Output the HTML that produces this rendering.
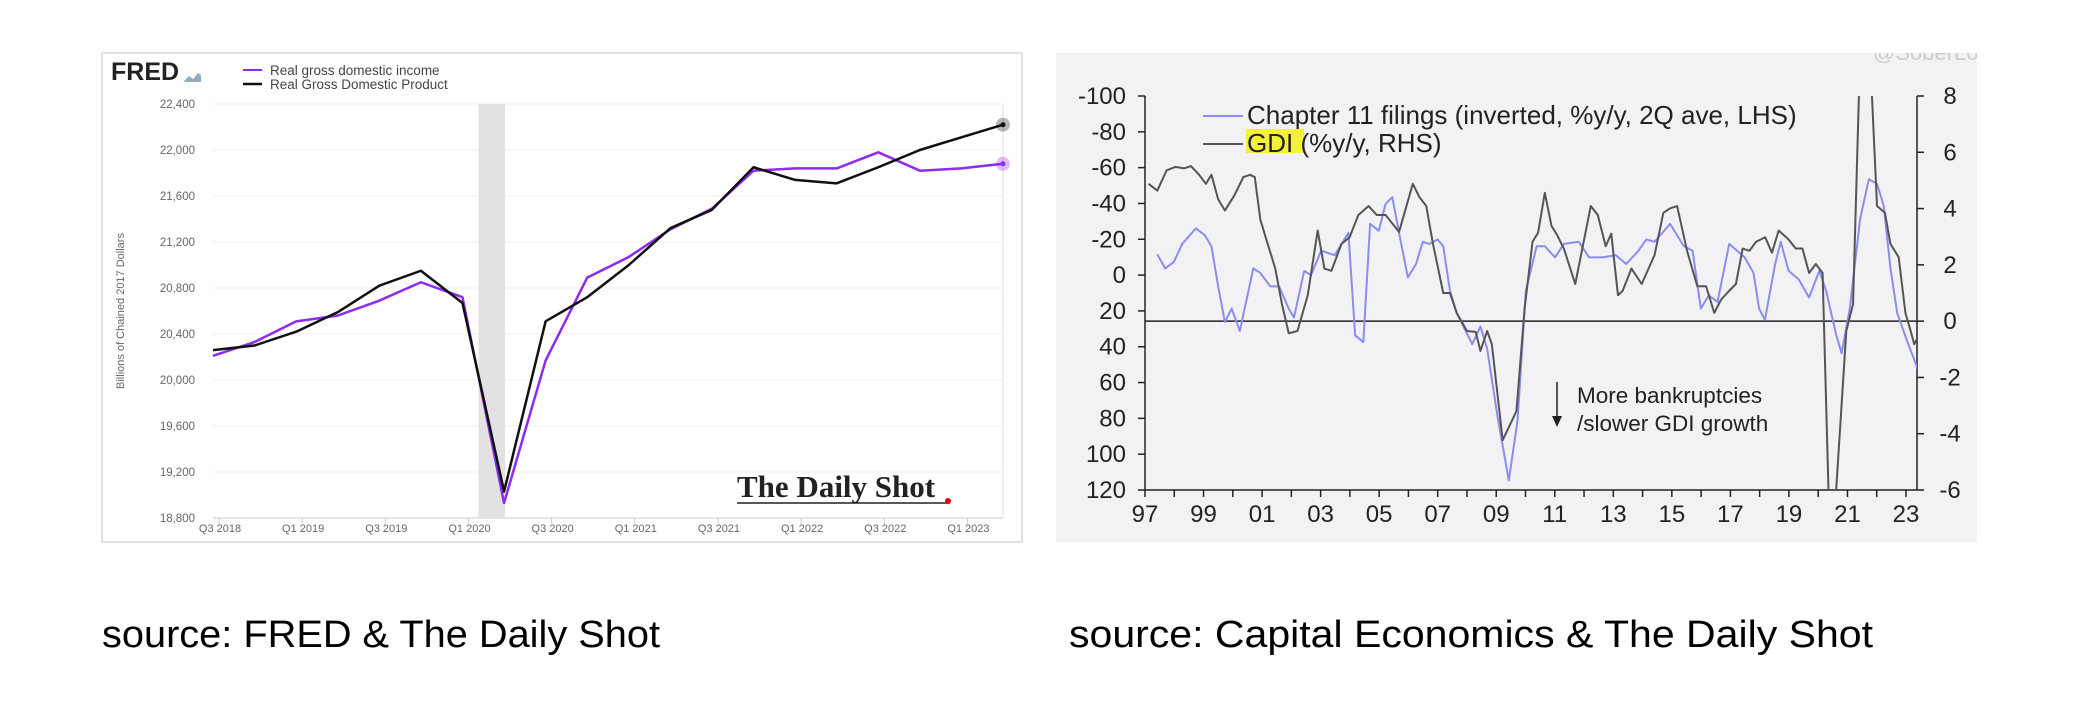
<!DOCTYPE html>
<html><head><meta charset="utf-8"><style>
html,body{margin:0;padding:0;background:#fff;}
svg{display:block;}
</style></head><body>
<svg id="root" width="2083" height="701" viewBox="0 0 2083 701" xmlns="http://www.w3.org/2000/svg">
<defs>
<clipPath id="rclip"><rect x="1145" y="96" width="772" height="394"/></clipPath>
<clipPath id="boxclip"><rect x="1056" y="53" width="921" height="489"/></clipPath>
</defs>
<!-- LEFT CHART -->
<g>
<rect x="102" y="53" width="920" height="489" fill="#fff" stroke="#d8d8d8" stroke-width="1.5"/>
<text x="111" y="80" font-family="Liberation Sans, sans-serif" font-weight="bold" font-size="25" fill="#222">FRED</text>
<path d="M184 81 l5-5 4 3 5-6 3 2 v7 h-17z" fill="#9ab"/>
<line x1="243" y1="70" x2="262" y2="70" stroke="#8b2cf0" stroke-width="2"/>
<text x="270" y="75" font-family="Liberation Sans, sans-serif" font-size="13.5" fill="#444">Real gross domestic income</text>
<line x1="243" y1="84" x2="262" y2="84" stroke="#111" stroke-width="2.5"/>
<text x="270" y="89" font-family="Liberation Sans, sans-serif" font-size="13.5" fill="#444">Real Gross Domestic Product</text>
<text transform="translate(124,311) rotate(-90)" text-anchor="middle" font-family="Liberation Sans, sans-serif" font-size="11" fill="#666">Billions of Chained 2017 Dollars</text>
<g id="lgrid"></g>
<rect id="recession" fill="#e2e2e2"/>
<g id="lseries"></g>
<text x="737" y="497" font-family="Liberation Serif, serif" font-weight="bold" font-size="31" fill="#222">The Daily Shot</text>
<line x1="737" y1="503" x2="950" y2="503" stroke="#222" stroke-width="1.5"/>
<circle cx="948" cy="501" r="3" fill="#e00"/>
</g>
<!-- RIGHT CHART -->
<g>
<rect x="1056" y="53" width="921" height="489" fill="#f2f2f4"/>
<text x="1873" y="60" clip-path="url(#boxclip)" font-family="Liberation Sans, sans-serif" font-size="22" fill="#ccc">@SoberLook</text>
<g id="raxes"></g>
<g clip-path="url(#rclip)" id="rseries"></g>
<line x1="1203" y1="116" x2="1243" y2="116" stroke="#8c8cee" stroke-width="2"/>
<text x="1247" y="124" font-family="Liberation Sans, sans-serif" font-size="26" fill="#222">Chapter 11 filings (inverted, %y/y, 2Q ave, LHS)</text>
<rect x="1246" y="129" width="58" height="24" fill="#f4f13a"/>
<line x1="1203" y1="144" x2="1243" y2="144" stroke="#555" stroke-width="2"/>
<text x="1247" y="152" font-family="Liberation Sans, sans-serif" font-size="26" fill="#222">GDI (%y/y, RHS)</text>
<line x1="1557" y1="382" x2="1557" y2="418" stroke="#222" stroke-width="1.5"/>
<path d="M1552 416 l5 11 5-11z" fill="#222"/>
<text x="1577" y="403" font-family="Liberation Sans, sans-serif" font-size="22.5" fill="#222">More bankruptcies</text>
<text x="1577" y="431" font-family="Liberation Sans, sans-serif" font-size="22.5" fill="#222">/slower GDI growth</text>
</g>
<text x="102" y="647" textLength="558" lengthAdjust="spacingAndGlyphs" font-family="Liberation Sans, sans-serif" font-size="38" fill="#000">source: FRED &amp; The Daily Shot</text>
<text x="1069" y="647" textLength="804" lengthAdjust="spacingAndGlyphs" font-family="Liberation Sans, sans-serif" font-size="38" fill="#000">source: Capital Economics &amp; The Daily Shot</text>
</svg>
<script>
// ---- Left chart data ----
const quarters = ["Q3 2018","Q4 2018","Q1 2019","Q2 2019","Q3 2019","Q4 2019","Q1 2020","Q2 2020","Q3 2020","Q4 2020","Q1 2021","Q2 2021","Q3 2021","Q4 2021","Q1 2022","Q2 2022","Q3 2022","Q4 2022","Q1 2023","Q2 2023"];
const gdiValues = [20210,20330,20510,20560,20690,20850,20720,18930,20170,20890,21070,21310,21490,21820,21840,21840,21980,21820,21840,21880];
const gdpValues = [20260,20300,20420,20590,20820,20950,20670,19030,20510,20720,21000,21320,21480,21850,21740,21710,21850,22000,22110,22220];
const leftYTicks = [18800,19200,19600,20000,20400,20800,21200,21600,22000,22400];
const leftXLabels = ["Q3 2018","Q1 2019","Q3 2019","Q1 2020","Q3 2020","Q1 2021","Q3 2021","Q1 2022","Q3 2022","Q1 2023"];
const recessionStart = "Q1 2020", recessionEnd = "Q2 2020";
// ---- Right chart data ----
const chYears = [1997.42,1997.69,1997.99,1998.27,1998.74,1999.04,1999.27,1999.5,1999.73,1999.96,2000.24,2000.7,2000.94,2001.28,2001.58,2001.91,2002.09,2002.44,2002.67,2003.02,2003.48,2003.95,2004.18,2004.46,2004.69,2004.99,2005.22,2005.45,2005.68,2005.98,2006.26,2006.49,2006.72,2007.0,2007.19,2007.42,2007.65,2007.88,2008.18,2008.46,2008.69,2009.04,2009.43,2009.73,2010.01,2010.38,2010.66,2011.01,2011.31,2011.82,2012.17,2012.63,2013.09,2013.44,2013.86,2014.13,2014.41,2014.94,2015.41,2015.71,2015.99,2016.26,2016.56,2016.96,2017.49,2017.79,2017.98,2018.18,2018.53,2018.72,2018.99,2019.34,2019.69,2020.04,2020.27,2020.62,2020.8,2021.08,2021.43,2021.73,2022.01,2022.24,2022.47,2022.7,2023.05,2023.4];
const chValues = [-11.6,-3.7,-7.4,-17.4,-26.1,-22.3,-16.1,6.3,26.2,18.7,31.2,-3.7,-1.2,6.3,6.3,18.7,23.7,-2.4,0.1,-13.6,-11.1,-23.6,33.7,37.4,-28.6,-24.8,-39.8,-43.5,-23.6,1.3,-6.2,-18.6,-17.4,-19.9,-16.1,8.8,21.2,28.7,38.6,28.7,41.1,78.5,114.6,81,8.8,-16.1,-16.1,-9.9,-17.4,-18.6,-9.9,-9.9,-11.1,-6.2,-13.6,-19.9,-18.6,-28.6,-16.1,-13.6,18.7,11.3,15,-17.4,-9.9,-1.2,18.7,25,-6.2,-18.6,-2.4,2.5,12.5,-2.4,8.8,33.7,43.6,18.7,-31.1,-53.5,-51,-38.5,-3.7,21.2,37.4,52.3];
const gdiYears = [1997.12,1997.42,1997.74,1998.04,1998.34,1998.57,1998.85,1999.08,1999.27,1999.5,1999.73,2000.06,2000.36,2000.59,2000.75,2000.94,2001.17,2001.45,2001.68,2001.91,2002.21,2002.56,2002.9,2003.13,2003.37,2003.71,2003.99,2004.29,2004.64,2004.92,2005.22,2005.68,2006.15,2006.38,2006.61,2006.84,2007.19,2007.42,2007.65,2008.0,2008.3,2008.46,2008.69,2008.85,2009.22,2009.69,2009.97,2010.24,2010.43,2010.66,2010.89,2011.08,2011.31,2011.7,2012.23,2012.47,2012.74,2012.93,2013.16,2013.32,2013.62,2013.97,2014.41,2014.71,2014.94,2015.18,2015.52,2015.87,2016.17,2016.45,2016.68,2016.96,2017.19,2017.42,2017.65,2017.88,2018.19,2018.42,2018.65,2018.99,2019.23,2019.46,2019.69,2019.92,2020.15,2020.43,2020.96,2021.19,2021.5,2021.66,2022.01,2022.28,2022.47,2022.75,2022.98,2023.16,2023.28,2023.44];
const gdiGrowth = [4.88,4.64,5.36,5.48,5.43,5.51,5.2,4.88,5.2,4.33,3.93,4.48,5.12,5.2,5.12,3.61,2.82,1.87,0.6,-0.43,-0.35,0.92,3.22,1.87,1.79,2.74,2.98,3.77,4.09,3.77,3.77,3.17,4.88,4.4,4.09,2.74,1,1,0.29,-0.35,-0.38,-1.06,-0.35,-0.82,-4.23,-3.2,0.45,2.82,3.14,4.56,3.38,3.06,2.58,1.32,4.09,3.77,2.66,3.11,0.92,1.08,1.87,1.32,2.35,3.85,4.01,4.09,2.5,1.24,1.24,0.29,0.76,1.08,1.32,2.58,2.5,2.82,2.98,2.43,3.22,2.9,2.58,2.58,1.71,2.03,1.71,-9,-0.35,0.6,12,12,4.09,3.85,2.74,2.27,0.29,-0.35,-0.82,-0.5];
const lhsTicks = [-100,-80,-60,-40,-20,0,20,40,60,80,100,120];
const rhsTicks = [8,6,4,2,0,-2,-4,-6];
const xTickLabels = ["97","99","01","03","05","07","09","11","13","15","17","19","21","23"];

const NS="http://www.w3.org/2000/svg";
function mk(tag, attrs, parent){const e=document.createElementNS(NS,tag);for(const k in attrs)e.setAttribute(k,attrs[k]);parent.appendChild(e);return e;}

// Left axes
const LX0=213, LX1=1003, LY0=518, LY1=104;
const lx = i => LX0 + i*(LX1-LX0)/(quarters.length-1);
const ly = v => LY0 - (v-18800)/(22400-18800)*(LY0-LY1);
const lgrid=document.getElementById('lgrid');
leftYTicks.forEach(t=>{
  const g=mk('line',{x1:LX0,x2:LX1,y1:ly(t),y2:ly(t),stroke:'#ececec','stroke-width':1},lgrid);
  
  
  const tx=mk('text',{x:195,y:ly(t)+4,'text-anchor':'end','font-family':'Liberation Sans, sans-serif','font-size':11.5,fill:'#666'},lgrid);
  tx.textContent=t.toLocaleString('en-US');
  
  
});
mk('line',{x1:LX0,x2:LX1,y1:LY0,y2:LY0,stroke:'#ccc'},lgrid);
mk('line',{x1:LX1,x2:LX1,y1:LY1,y2:LY0,stroke:'#e0e0e0'},lgrid);
leftXLabels.forEach(l=>{
  const i=quarters.indexOf(l);
  const tk=mk('line',{x1:lx(i)+6,x2:lx(i)+6,y1:LY0,y2:LY0+6,stroke:'#ccc'},lgrid);
  
  
  const tx=mk('text',{x:lx(i)+7,y:532,'text-anchor':'middle','font-family':'Liberation Sans, sans-serif','font-size':11,fill:'#666'},lgrid);
  tx.textContent=l;
  
  
});
const rec=document.getElementById('recession');
const r0=lx(quarters.indexOf(recessionStart))+16, r1=lx(quarters.indexOf(recessionEnd))+1;
rec.setAttribute('x',r0);rec.setAttribute('width',r1-r0);rec.setAttribute('y',LY1);rec.setAttribute('height',LY0-LY1);
const ls=document.getElementById('lseries');
function lline(vals,color,w,name){
  const p=mk('polyline',{points:vals.map((v,i)=>lx(i)+','+ly(v)).join(' '),fill:'none',stroke:color,'stroke-width':w,'stroke-linejoin':'round'},ls);
  
  
  const n=vals.length-1;
  const c=mk('circle',{cx:lx(n),cy:ly(vals[n]),r:7,fill:color,'fill-opacity':0.3},ls);
  
  
  mk('circle',{cx:lx(n),cy:ly(vals[n]),r:2.5,fill:color},ls);
}
lline(gdiValues,'#8b2cf0',2.5,'gdi-line');
lline(gdpValues,'#111',2.5,'gdp-line');

// Right axes
const RX0=1145, RX1=1917, RY0=96, RY1=490;
const rx = y => RX0 + (y-1997)*(1906-RX0)/26;
const ryL = v => RY0 + (v+100)/220*(RY1-RY0);
const ryR = v => RY0 + (8-v)/14*(RY1-RY0);
const ra=document.getElementById('raxes');
mk('line',{x1:RX0,x2:RX0,y1:RY0,y2:RY1,stroke:'#222','stroke-width':1.5},ra);
mk('line',{x1:RX1,x2:RX1,y1:RY0,y2:RY1,stroke:'#222','stroke-width':1.5},ra);
mk('line',{x1:RX0,x2:RX1,y1:RY1,y2:RY1,stroke:'#222','stroke-width':1.5},ra);
lhsTicks.forEach(t=>{
  mk('line',{x1:RX0-7,x2:RX0,y1:ryL(t),y2:ryL(t),stroke:'#222','stroke-width':1.5},ra);
  const tx=mk('text',{x:1126,y:ryL(t)+8,'text-anchor':'end','font-family':'Liberation Sans, sans-serif','font-size':24,fill:'#222'},ra);
  tx.textContent=t;
  
  
});
rhsTicks.forEach(t=>{
  mk('line',{x1:RX1,x2:RX1+7,y1:ryR(t),y2:ryR(t),stroke:'#222','stroke-width':1.5},ra);
  const tx=mk('text',{x:1950,y:ryR(t)+8,'text-anchor':'middle','font-family':'Liberation Sans, sans-serif','font-size':24,fill:'#222'},ra);
  tx.textContent=t;
  
  
});
for(let y=1997;y<=2023;y++){
  mk('line',{x1:rx(y),x2:rx(y),y1:RY1,y2:RY1+7,stroke:'#222','stroke-width':1.5},ra);
}
xTickLabels.forEach(l=>{
  const y=(+l>50?1900:2000)+ +l;
  const tx=mk('text',{x:rx(y),y:522,'text-anchor':'middle','font-family':'Liberation Sans, sans-serif','font-size':24,fill:'#222'},ra);
  tx.textContent=l;
  
  
});
const zl=mk('line',{x1:RX0,x2:RX1,y1:ryR(0),y2:ryR(0),stroke:'#222','stroke-width':1.5},ra);


const rs=document.getElementById('rseries');
const p1=mk('polyline',{points:chYears.map((y,i)=>rx(y)+','+ryL(chValues[i])).join(' '),fill:'none',stroke:'#8c8cee','stroke-width':2,'stroke-linejoin':'round'},rs);


const p2=mk('polyline',{points:gdiYears.map((y,i)=>rx(y)+','+ryR(gdiGrowth[i])).join(' '),fill:'none',stroke:'#555','stroke-width':2,'stroke-linejoin':'round'},rs);


</script>
</body></html>
